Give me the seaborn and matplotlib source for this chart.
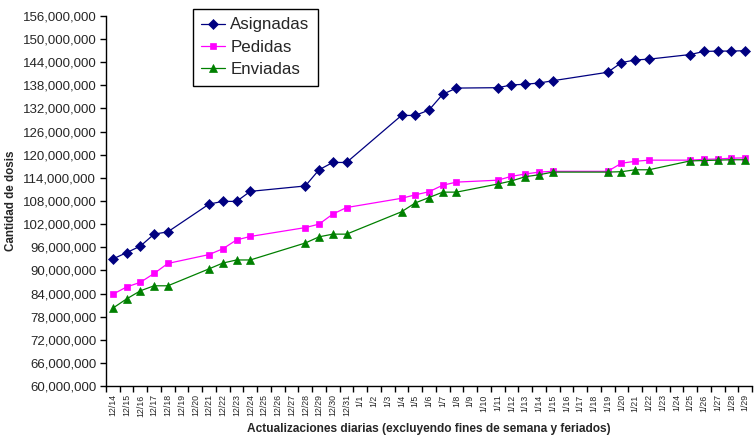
import pandas as pd
import seaborn as sns
import matplotlib.pyplot as plt
from matplotlib.ticker import FuncFormatter, MultipleLocator

# Eje de categorias: todos los dias del 14/12 al 29/1
dias_dic = ['12/%d' % d for d in range(14, 32)]
dias_ene = ['1/%d' % d for d in range(1, 30)]
dias = dias_dic + dias_ene

# Dias con actualizacion (sin fines de semana ni feriados)
fechas = ['12/14', '12/15', '12/16', '12/17', '12/18', '12/21', '12/22', '12/23',
          '12/24', '12/28', '12/29', '12/30', '12/31', '1/4', '1/5', '1/6', '1/7',
          '1/8', '1/11', '1/12', '1/13', '1/14', '1/15', '1/19', '1/20', '1/21',
          '1/22', '1/25', '1/26', '1/27', '1/28', '1/29']

# Valores en millones de dosis
asignadas = [92.96, 94.6, 96.3, 99.4, 100.0, 107.2, 107.9, 107.9, 110.5, 111.9,
             116.1, 118.0, 118.0, 130.2, 130.2, 131.6, 135.7, 137.3, 137.4, 138.1,
             138.3, 138.6, 139.2, 141.4, 143.9, 144.6, 144.8, 146.0, 146.8, 146.9,
             146.9, 147.0]
pedidas = [83.8, 85.7, 86.9, 89.2, 91.8, 94.1, 95.6, 97.9, 98.8, 101.1, 102.0,
           104.6, 106.3, 108.7, 109.6, 110.4, 112.1, 112.9, 113.4, 114.4, 115.0,
           115.5, 115.7, 115.7, 117.8, 118.3, 118.6, 118.6, 118.8, 118.9, 119.1,
           119.2]
enviadas = [80.2, 82.6, 84.7, 86.0, 86.0, 90.4, 91.9, 92.7, 92.7, 97.1, 98.7,
            99.4, 99.4, 105.2, 107.5, 108.9, 110.3, 110.3, 112.4, 113.2, 114.3,
            114.8, 115.5, 115.5, 115.6, 116.1, 116.1, 118.4, 118.5, 118.6, 118.7,
            118.7]

series = ['Asignadas', 'Pedidas', 'Enviadas']
colores = ['#000080', '#FF00FF', '#008000']
marcadores = ['D', 's', '^']
tamanos = [4.8, 5, 5.5]

sns.set_style('white')
plt.rcParams['font.family'] = ['Liberation Sans', 'DejaVu Sans']

fig = plt.figure(figsize=(7.56, 4.43), dpi=100)
ax = fig.add_axes([106 / 756, 1 - 386 / 443, (752 - 106) / 756, (386 - 16) / 443])

pos = [dias.index(f) for f in fechas]
for nombre, vals, c, m, ms in zip(series, [asignadas, pedidas, enviadas],
                                  colores, marcadores, tamanos):
    df = pd.DataFrame({'x': pos, 'dosis': [v * 1e6 for v in vals]})
    sns.lineplot(data=df, x='x', y='dosis', color=c, marker=m, markersize=ms,
                 markeredgecolor=c, markeredgewidth=0.5, linewidth=0.9,
                 label=nombre, ax=ax)

ax.set_xlim(-0.5, len(dias) - 0.5)
ax.set_ylim(60e6, 156e6)
ax.yaxis.set_major_locator(MultipleLocator(6e6))
ax.yaxis.set_major_formatter(FuncFormatter(lambda v, p: '{:,.0f}'.format(v)))

ax.set_xticks(range(len(dias)))
ax.set_xticklabels(dias, rotation=90, fontsize=6.3)
ax.set_xticks([i - 0.5 for i in range(len(dias) + 1)], minor=True)
ax.tick_params(axis='x', which='major', length=0, pad=6)
ax.tick_params(axis='x', which='minor', length=4, width=1, bottom=True, color='black')
ax.tick_params(axis='y', length=4, width=1, left=True, color='black', labelsize=9.5, pad=3)

sns.despine(ax=ax)
for s in ['left', 'bottom']:
    ax.spines[s].set_color('black')
    ax.spines[s].set_linewidth(1)

ax.set_xlabel('Actualizaciones diarias (excluyendo fines de semana y feriados)',
              fontsize=8.6, fontweight='bold')
ax.set_ylabel('Cantidad de dosis', fontsize=8.4, fontweight='bold')
ax.xaxis.set_label_coords(0.5, -0.1)
ax.yaxis.set_label_coords(-0.138, 0.5)

leg = ax.legend(loc='upper left', bbox_to_anchor=(193 / 756, 1 - 9 / 443),
                bbox_transform=fig.transFigure, borderaxespad=0, fontsize=12.2,
                fancybox=False, edgecolor='black', framealpha=1,
                handlelength=1.4, handletextpad=0.3, labelspacing=0.43, borderpad=0.5)
leg.get_frame().set_linewidth(1)

fig.savefig('out.png', dpi=100)
